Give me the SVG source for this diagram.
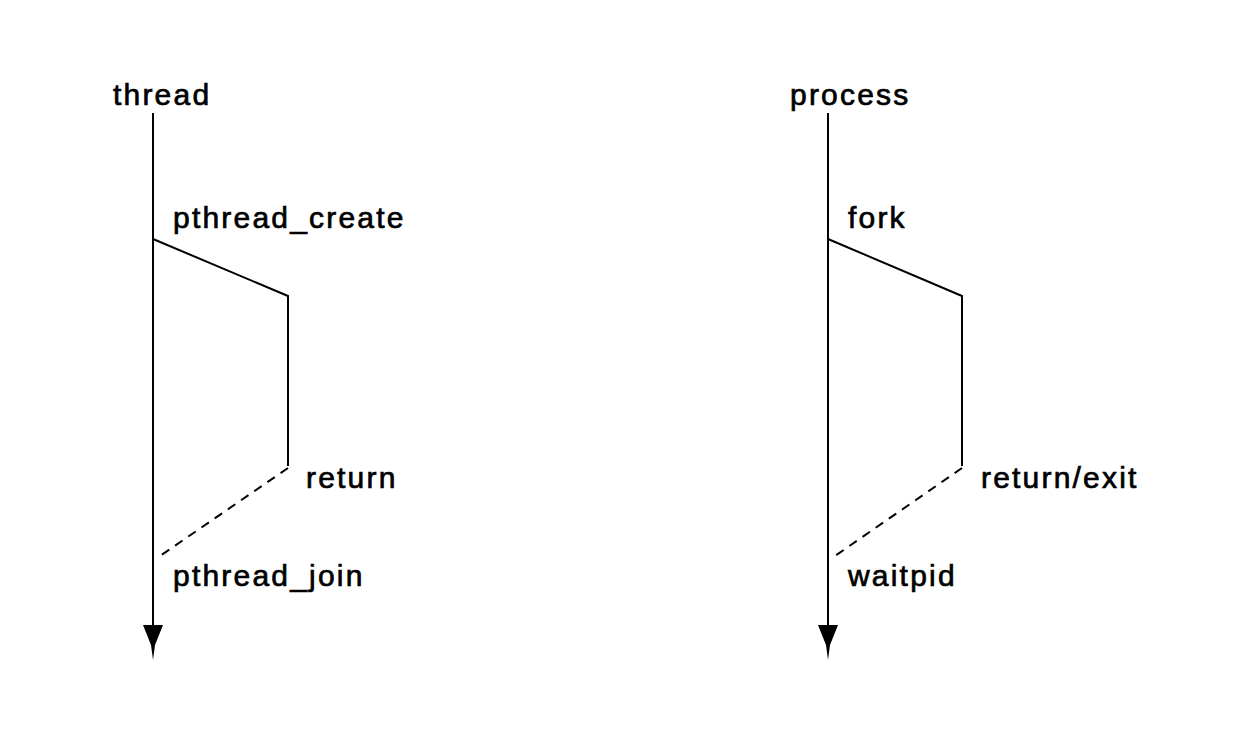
<svg xmlns="http://www.w3.org/2000/svg" width="1250" height="740" viewBox="0 0 1250 740">
<style>
.t{font-family:"Liberation Sans",Arial,sans-serif;font-size:30px;letter-spacing:2.2px;fill:#000;stroke:#000;stroke-width:0.7px}
.l{fill:none;stroke:#000;stroke-width:2}
.d{fill:none;stroke:#000;stroke-width:2;stroke-dasharray:9 7}
.a{fill:#000}
</style>
<rect width="1250" height="740" fill="#fff"/>
<g id="connectors">
<line class="l" x1="153" y1="113" x2="153" y2="630"/>
<polygon class="a" points="143,625 163,625 155,645 153,660 151,645"/>
<polyline class="l" points="153,239 288,296 288,466"/>
<line class="d" x1="288" y1="468" x2="160" y2="556"/>
<line class="l" x1="828" y1="113" x2="828" y2="630"/>
<polygon class="a" points="818,625 838,625 830,645 828,660 826,645"/>
<polyline class="l" points="828,239 962,296 962,466"/>
<line class="d" x1="962" y1="468" x2="835" y2="556"/>
</g>
<g id="thread"><text class="t" x="113" y="105">thread</text></g>
<g id="pthread_create"><text class="t" x="173" y="228">pthread_create</text></g>
<g id="return"><text class="t" x="306" y="488">return</text></g>
<g id="pthread_join"><text class="t" x="173" y="586">pthread_join</text></g>
<g id="process"><text class="t" x="790" y="105">process</text></g>
<g id="fork"><text class="t" x="848" y="228">fork</text></g>
<g id="return_exit"><text class="t" x="981" y="488">return/exit</text></g>
<g id="waitpid"><text class="t" x="848" y="586">waitpid</text></g>
</svg>
